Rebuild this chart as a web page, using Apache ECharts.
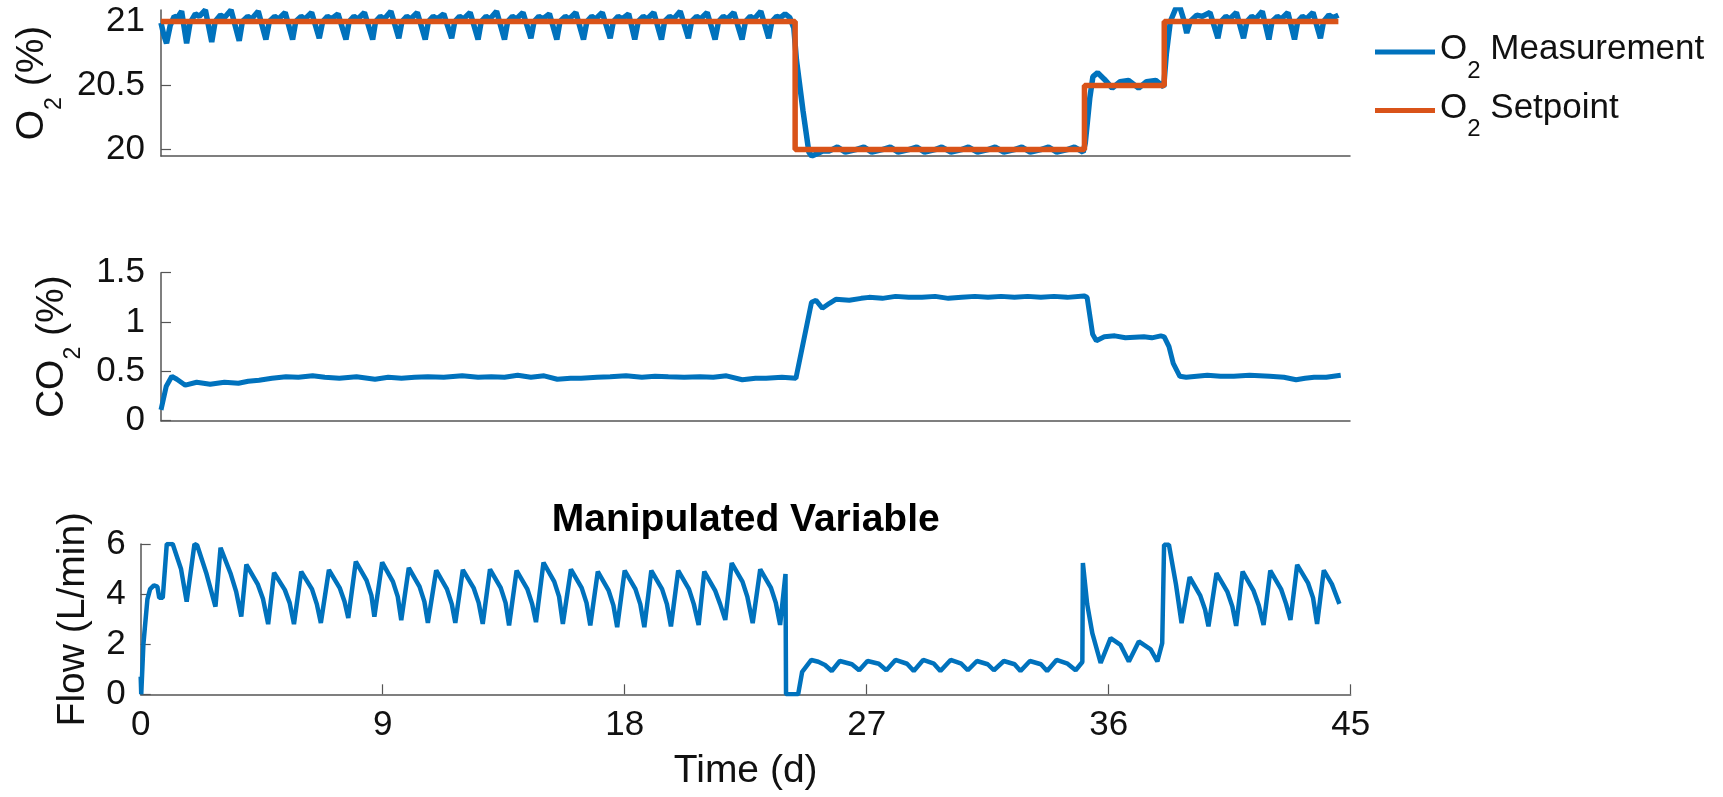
<!DOCTYPE html>
<html><head><meta charset="utf-8">
<script src="https://cdn.jsdelivr.net/npm/echarts@6/dist/echarts.min.js"></script>
<style>html,body{margin:0;padding:0;background:#fff}#c{width:1723px;height:797px}</style>
</head><body><div id="c"></div>
<script>
// ---- data (time in days) ----
const o2Measurement = [
[0,20.99],[0.1,20.9],[0.21,20.83],[0.35,20.97],[0.5,21.04],[0.62,21.03],[0.78,21.08],
[0.97,20.83],[1.1,20.99],[1.3,21.06],[1.45,21.04],[1.68,21.09],
[1.92,20.84],[2.05,21.0],[2.25,21.05],[2.4,21.03],[2.65,21.09],
[2.96,20.85],[3.08,21.0],[3.28,21.04],[3.43,21.02],[3.68,21.08],
[3.97,20.86],[4.1,21.0],[4.3,21.04],[4.45,21.02],[4.7,21.07],
[4.98,20.86],[5.1,21.0],[5.3,21.04],[5.45,21.02],[5.7,21.07],
[5.99,20.87],[6.12,21.0],[6.3,21.04],[6.45,21.02],[6.7,21.06],
[7.0,20.86],[7.12,21.0],[7.3,21.04],[7.45,21.02],[7.7,21.07],
[8.01,20.86],[8.12,21.0],[8.3,21.04],[8.45,21.02],[8.7,21.08],
[9.0,20.87],[9.12,21.0],[9.3,21.04],[9.45,21.02],[9.7,21.07],
[10.0,20.86],[10.12,21.0],[10.3,21.04],[10.45,21.02],[10.7,21.06],
[11.0,20.87],[11.12,21.0],[11.3,21.04],[11.45,21.02],[11.7,21.07],
[12.0,20.86],[12.12,21.0],[12.3,21.04],[12.45,21.02],[12.7,21.08],
[13.0,20.86],[13.12,21.0],[13.3,21.04],[13.45,21.02],[13.7,21.07],
[14.0,20.87],[14.12,21.0],[14.3,21.04],[14.45,21.02],[14.7,21.06],
[14.98,20.86],[15.1,21.0],[15.3,21.04],[15.45,21.02],[15.7,21.07],
[15.99,20.86],[16.12,21.0],[16.3,21.04],[16.45,21.02],[16.7,21.07],
[17.0,20.87],[17.12,21.0],[17.3,21.04],[17.45,21.02],[17.7,21.06],
[17.93,20.86],[18.06,21.0],[18.25,21.04],[18.4,21.02],[18.65,21.07],
[18.94,20.86],[19.06,21.0],[19.25,21.04],[19.4,21.02],[19.65,21.08],
[19.96,20.87],[20.08,21.0],[20.27,21.04],[20.42,21.02],[20.67,21.07],
[20.97,20.86],[21.1,21.0],[21.28,21.04],[21.43,21.02],[21.68,21.07],
[21.99,20.86],[22.12,21.0],[22.3,21.04],[22.45,21.02],[22.7,21.08],
[23.0,20.87],[23.12,21.0],[23.3,21.04],[23.45,21.03],[23.62,21.06],[23.8,21.03],[23.95,20.95],
[24.05,20.7],[24.3,20.3],[24.52,19.98],[24.63,19.95],[24.85,19.97],[25.06,19.99],[25.3,19.99],[25.6,20.02],[25.9,19.98],
[26.3,20.0],[26.6,20.02],[26.9,19.98],
[27.3,20.0],[27.6,20.02],[27.9,19.98],
[28.3,20.0],[28.6,20.02],[28.9,19.98],
[29.3,20.0],[29.55,20.02],[29.9,19.98],
[30.3,20.0],[30.56,20.02],[30.9,19.98],
[31.3,20.0],[31.57,20.02],[31.9,19.98],
[32.3,20.0],[32.58,20.02],[32.9,19.98],
[33.3,20.0],[33.59,20.02],[33.9,19.98],
[34.3,20.0],[34.57,20.02],[34.9,19.98],
[34.98,20.05],[35.15,20.4],[35.27,20.57],[35.45,20.6],[35.7,20.55],[36.0,20.48],[36.3,20.53],[36.62,20.54],
[37.0,20.48],[37.3,20.53],[37.65,20.54],[37.95,20.49],[38.05,20.75],[38.2,21.0],[38.4,21.1],[38.55,21.12],
[38.7,21.02],[38.82,20.91],[38.95,21.0],[39.2,21.05],[39.4,21.04],[39.7,21.07],
[40.0,20.87],[40.12,21.0],[40.3,21.04],[40.45,21.02],[40.7,21.07],
[40.97,20.87],[41.1,21.0],[41.28,21.04],[41.43,21.02],[41.68,21.08],
[41.93,20.86],[42.05,21.0],[42.25,21.04],[42.4,21.02],[42.65,21.07],
[42.9,20.86],[43.02,21.0],[43.2,21.04],[43.35,21.02],[43.6,21.07],
[43.88,20.87],[44.0,21.0],[44.2,21.05],[44.35,21.03],[44.56,21.05]
];
const o2Setpoint = [[0,21],[24.0,21],[24.0,20],[34.95,20],[34.95,20.5],[37.97,20.5],[37.97,21],[44.56,21]];
const co2Measurement = [
[0,0.11],[0.2,0.35],[0.41,0.45],[0.6,0.42],[0.92,0.36],[1.35,0.39],[1.86,0.37],[2.4,0.39],[2.93,0.38],[3.3,0.4],
[3.71,0.41],[4.2,0.43],[4.73,0.445],[5.2,0.44],[5.74,0.455],[6.2,0.44],[6.75,0.43],[7.4,0.445],[8.1,0.42],[8.6,0.44],
[9.1,0.43],[9.6,0.44],[10.1,0.445],[10.7,0.44],[11.4,0.455],[12.0,0.44],[12.5,0.445],[13.0,0.44],[13.5,0.46],[14.0,0.44],
[14.5,0.455],[15.0,0.42],[15.5,0.43],[15.9,0.43],[16.5,0.44],[17.0,0.445],[17.6,0.455],[18.2,0.44],[18.7,0.45],[19.2,0.445],
[19.8,0.44],[20.4,0.445],[20.9,0.44],[21.4,0.455],[22.0,0.415],[22.5,0.43],[22.9,0.43],[23.5,0.44],[24.03,0.43],
[24.62,1.2],[24.79,1.22],[25.03,1.14],[25.3,1.19],[25.54,1.23],[26.05,1.22],[26.5,1.24],[26.8,1.25],[27.3,1.24],[27.8,1.26],
[28.3,1.25],[28.8,1.25],[29.3,1.26],[29.8,1.24],[30.3,1.25],[30.8,1.26],[31.3,1.25],[31.8,1.26],[32.3,1.25],[32.8,1.26],
[33.3,1.25],[33.8,1.26],[34.3,1.25],[34.93,1.265],[35.05,1.25],[35.26,0.875],[35.4,0.81],[35.7,0.85],[36.1,0.86],[36.5,0.84],
[37.2,0.85],[37.5,0.84],[37.84,0.86],[37.97,0.85],[38.15,0.75],[38.31,0.58],[38.56,0.45],[38.8,0.44],[39.2,0.45],[39.6,0.46],
[40.1,0.45],[40.6,0.45],[41.2,0.46],[41.96,0.45],[42.5,0.44],[42.96,0.415],[43.3,0.43],[43.64,0.44],[44.1,0.44],[44.65,0.46]
];
const flowRate = [
[0,0.7],[0.02,0],[0.1,2.0],[0.25,3.8],[0.35,4.2],[0.49,4.35],[0.62,4.3],[0.69,3.85],[0.82,3.85],[0.97,6.0],[1.19,6.0],[1.5,5.0],[1.71,3.7],
[2.0,6.0],[2.1,5.95],[2.45,4.8],[2.78,3.5],
[2.97,5.85],[3.35,4.8],[3.55,4.1],[3.74,3.1],
[3.93,5.18],[4.35,4.4],[4.55,3.8],[4.74,2.8],
[4.96,4.85],[5.36,4.17],[5.54,3.65],[5.7,2.8],
[5.97,4.9],[6.37,4.2],[6.55,3.6],[6.7,2.85],
[7.0,4.97],[7.4,4.25],[7.58,3.7],[7.72,3.05],
[8.0,5.3],[8.4,4.55],[8.58,3.95],[8.69,3.1],
[8.98,5.27],[9.38,4.5],[9.56,3.9],[9.69,2.96],
[9.97,5.05],[10.37,4.3],[10.55,3.7],[10.68,2.85],
[10.99,4.95],[11.39,4.2],[11.57,3.6],[11.7,2.85],
[11.98,4.97],[12.38,4.25],[12.57,3.65],[12.72,2.81],
[12.99,4.99],[13.39,4.25],[13.57,3.65],[13.7,2.75],
[13.98,4.94],[14.38,4.2],[14.56,3.6],[14.7,2.88],
[14.98,5.26],[15.38,4.5],[15.56,3.9],[15.7,2.81],
[16.0,4.99],[16.4,4.25],[16.58,3.65],[16.72,2.75],
[17.0,4.9],[17.4,4.15],[17.58,3.55],[17.72,2.68],
[18.0,4.94],[18.4,4.2],[18.58,3.6],[18.73,2.68],
[18.99,4.94],[19.39,4.2],[19.57,3.6],[19.72,2.71],
[19.99,4.94],[20.39,4.2],[20.57,3.6],[20.75,2.77],
[20.96,4.9],[21.36,4.15],[21.55,3.6],[21.74,2.97],
[21.98,5.24],[22.38,4.5],[22.56,3.9],[22.76,2.84],
[23.04,4.99],[23.44,4.25],[23.62,3.65],[23.78,2.77],
[23.98,4.8],[24.0,0],[24.45,0],[24.6,0.9],[24.94,1.37],[25.2,1.3],[25.45,1.17],[25.7,0.93],
[26.0,1.33],[26.45,1.2],[26.72,0.96],
[27.03,1.33],[27.45,1.22],[27.73,0.96],
[28.07,1.37],[28.5,1.22],[28.75,0.93],
[29.1,1.37],[29.5,1.22],[29.74,0.93],
[30.12,1.37],[30.52,1.22],[30.76,0.96],
[31.1,1.33],[31.5,1.2],[31.73,0.96],
[32.1,1.33],[32.5,1.2],[32.72,0.93],
[33.07,1.33],[33.48,1.2],[33.71,0.93],
[34.06,1.37],[34.47,1.22],[34.77,0.96],
[35.02,1.29],[35.04,5.24],[35.2,3.6],[35.39,2.44],[35.7,1.25],[36.07,2.24],[36.44,1.97],[36.75,1.31],
[37.12,2.11],[37.56,1.79],[37.81,1.31],[37.99,2.04],[38.06,5.97],[38.24,5.97],[38.5,4.4],[38.71,2.84],
[39.01,4.68],[39.4,3.95],[39.58,3.4],[39.71,2.71],
[40.01,4.84],[40.41,4.1],[40.6,3.5],[40.74,2.73],
[40.98,4.9],[41.38,4.15],[41.58,3.55],[41.76,2.77],
[42.01,4.94],[42.41,4.2],[42.6,3.6],[42.76,2.97],
[43.01,5.17],[43.41,4.45],[43.6,3.85],[43.75,2.81],
[44.0,4.95],[44.3,4.4],[44.58,3.61]
];
const o2Ticks = [20, 20.5, 21];
const timeTicks = [0, 9, 18, 27, 36, 45];

// ---- styling ----
const FONT = "'Liberation Sans', Arial, Helvetica, sans-serif";
const BLUE = '#0072BD', ORANGE = '#D95319';
const AX = '#555555', TXT = '#111111';
const axisLine = {show: true, lineStyle: {color: AX, width: 1.5}};
const tickIn = {show: true, inside: true, length: 10, lineStyle: {color: AX, width: 1.2}};
const labelStyle = {fontSize: 35, color: TXT, fontFamily: FONT};

const nameRich = {
  m: {fontSize: 39, lineHeight: 44, verticalAlign: 'top', fontFamily: FONT, color: TXT},
  s: {fontSize: 23, lineHeight: 23, verticalAlign: 'top', padding: [30, 0, 0, 0], fontFamily: FONT, color: TXT}
};
const legendRich = {
  m: {fontSize: 35, lineHeight: 40, verticalAlign: 'top', fontFamily: FONT, color: TXT},
  s: {fontSize: 24, lineHeight: 24, verticalAlign: 'top', padding: [27, 0, 0, 0], fontFamily: FONT, color: TXT}
};
function legendFmt(name) { return '{m|O}{s|2}{m|' + name.slice(2) + '}'; }

const chart = echarts.init(document.getElementById('c'), null, {renderer: 'canvas'});
const xTime = timeTicks[timeTicks.length - 1];
chart.setOption({
  animation: false,
  backgroundColor: '#ffffff',
  title: {
    text: 'Manipulated Variable', left: 745.7, top: 498, textAlign: 'center', padding: 0,
    textStyle: {fontSize: 39, fontWeight: 'bold', fontFamily: FONT, color: '#000', lineHeight: 44}
  },
  legend: [
    {data: ['O2 Measurement'], left: 1375, top: 32, padding: 0, orient: 'vertical', icon: 'rect',
     itemWidth: 60, itemHeight: 5, selectedMode: false, formatter: legendFmt, textStyle: {rich: legendRich}},
    {data: ['O2 Setpoint'], left: 1375, top: 90.5, padding: 0, orient: 'vertical', icon: 'rect',
     itemWidth: 60, itemHeight: 5, selectedMode: false, formatter: legendFmt, textStyle: {rich: legendRich}}
  ],
  grid: [
    {left: 161, top: 10, width: 1189, height: 146},
    {left: 161, top: 272.7, width: 1189, height: 148},
    {left: 140.7, top: 544, width: 1210, height: 150.3}
  ],
  xAxis: [
    {gridIndex: 0, type: 'value', min: 0, max: xTime, axisLine, axisTick: {show: false}, axisLabel: {show: false}, splitLine: {show: false}},
    {gridIndex: 1, type: 'value', min: 0, max: xTime, axisLine, axisTick: {show: false}, axisLabel: {show: false}, splitLine: {show: false}},
    {gridIndex: 2, type: 'value', min: 0, max: xTime, interval: 9, axisLine, axisTick: tickIn,
     axisLabel: Object.assign({margin: 11, lineHeight: 40}, labelStyle), splitLine: {show: false},
     name: 'Time (d)', nameLocation: 'middle', nameGap: 55,
     nameTextStyle: {fontSize: 39, lineHeight: 44, fontFamily: FONT, color: TXT}}
  ],
  yAxis: [
    {gridIndex: 0, type: 'value', min: 19.95, max: 21.09, axisLine,
     axisTick: Object.assign({customValues: o2Ticks}, tickIn),
     axisLabel: Object.assign({customValues: o2Ticks, margin: 16}, labelStyle), splitLine: {show: false},
     name: '{m|O}{s|2}{m| (%)}', nameLocation: 'middle', nameRotate: 90, nameGap: 95.5,
     nameTextStyle: {rich: nameRich}},
    {gridIndex: 1, type: 'value', min: 0, max: 1.5, interval: 0.5, axisLine, axisTick: tickIn,
     axisLabel: Object.assign({margin: 16}, labelStyle), splitLine: {show: false},
     name: '{m|CO}{s|2}{m| (%)}', nameLocation: 'middle', nameRotate: 90, nameGap: 76.5,
     nameTextStyle: {rich: nameRich}},
    {gridIndex: 2, type: 'value', min: 0, max: 6, interval: 2, axisLine, axisTick: tickIn,
     axisLabel: Object.assign({margin: 15}, labelStyle), splitLine: {show: false},
     name: 'Flow (L/min)', nameLocation: 'middle', nameRotate: 90, nameGap: 40,
     nameTextStyle: {fontSize: 39, lineHeight: 44, fontFamily: FONT, color: TXT}}
  ],
  series: [
    {name: 'O2 Measurement', type: 'line', xAxisIndex: 0, yAxisIndex: 0, data: o2Measurement,
     showSymbol: false, color: BLUE, lineStyle: {color: BLUE, width: 5.5}},
    {name: 'O2 Setpoint', type: 'line', xAxisIndex: 0, yAxisIndex: 0, data: o2Setpoint,
     showSymbol: false, color: ORANGE, lineStyle: {color: ORANGE, width: 5.5}},
    {name: 'CO2 Measurement', type: 'line', xAxisIndex: 1, yAxisIndex: 1, data: co2Measurement,
     showSymbol: false, color: BLUE, lineStyle: {color: BLUE, width: 5}},
    {name: 'Flow', type: 'line', xAxisIndex: 2, yAxisIndex: 2, data: flowRate,
     showSymbol: false, color: BLUE, lineStyle: {color: BLUE, width: 4.5}}
  ]
});
</script>
</body></html>
